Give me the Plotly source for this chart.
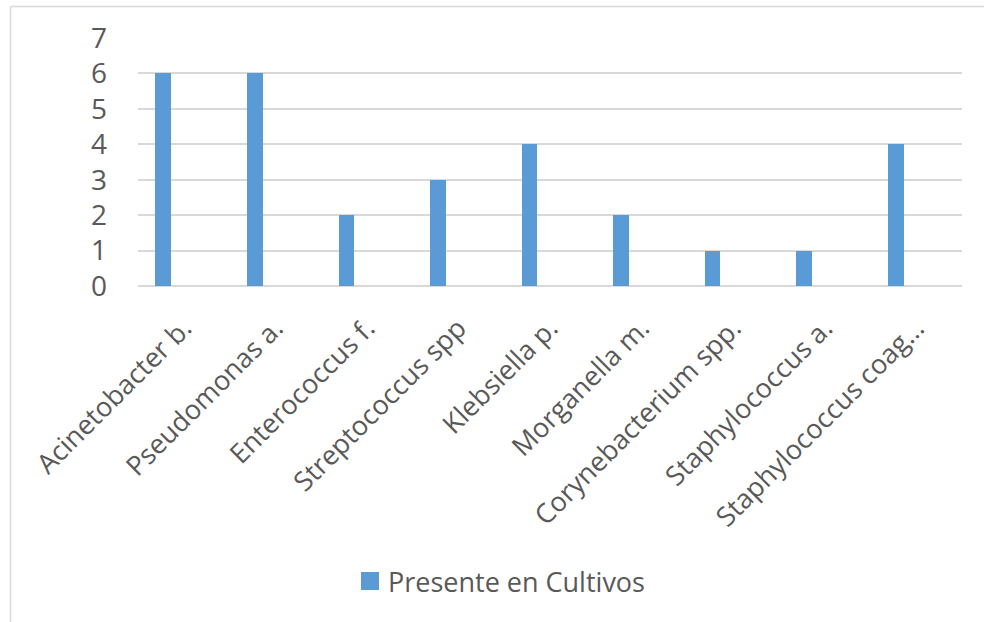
import plotly.graph_objects as go

categories = ["Acinetobacter b.", "Pseudomonas a.", "Enterococcus f.", "Streptococcus spp",
              "Klebsiella p.", "Morganella m.", "Corynebacterium spp.", "Staphylococcus a.",
              "Staphylococcus coag…"]
values = [6, 6, 2, 3, 4, 2, 1, 1, 4]
series_name = "Presente en Cultivos"
y_ticks = [0, 1, 2, 3, 4, 5, 6, 7]

W, H = 984, 622
L, R, T, B = 138, 962, 38, 286  # plot area in px

def px_x(x):
    return (x - L) / (R - L)

def px_y(y):
    return 1 - (y - T) / (B - T)

TEXT = "#595959"
GRID = "#D9D9D9"
BLUE = "#5B9BD5"
FONT = "Open Sans"

fig = go.Figure()
fig.add_trace(go.Bar(
    x=categories, y=values, name=series_name,
    marker=dict(color=BLUE, line=dict(width=0)),
    width=0.171, offset=-0.309,
    showlegend=False,
))

fig.update_layout(
    width=W, height=H,
    margin=dict(l=L, r=W - R, t=T, b=H - B, pad=0),
    paper_bgcolor="white", plot_bgcolor="white",
    font=dict(family=FONT, size=27, color=TEXT),
    xaxis=dict(type="category", range=[-0.5, 8.5], tickangle=-45,
               showgrid=False, showline=False, zeroline=False, ticks="",
               ticklabelstandoff=20,
               tickfont=dict(size=27, color=TEXT)),
    yaxis=dict(range=[0, 7], tickvals=y_ticks, showgrid=True, gridcolor=GRID, gridwidth=1.6,
               zeroline=True, zerolinecolor=GRID, zerolinewidth=1.6, showline=False, ticks="",
               ticklabelstandoff=30, tickfont=dict(size=28, color=TEXT)),
    bargap=0,
)

# chart border (top and left edges visible)
bx, by = px_x(10.5), px_y(6.5)
fig.add_shape(type="line", xref="paper", yref="paper", x0=bx, y0=by, x1=px_x(1000), y1=by,
              line=dict(color=GRID, width=1.5))
fig.add_shape(type="line", xref="paper", yref="paper", x0=bx, y0=by, x1=bx, y1=px_y(640),
              line=dict(color=GRID, width=1.5))

# legend
fig.add_shape(type="rect", xref="paper", yref="paper",
              x0=px_x(361), x1=px_x(379), y0=px_y(590), y1=px_y(572),
              fillcolor=BLUE, line=dict(width=0))
fig.add_annotation(xref="paper", yref="paper", x=px_x(386), y=px_y(581),
                   text=series_name, showarrow=False, xanchor="left", yanchor="middle",
                   font=dict(family=FONT, size=27, color=TEXT))

fig.write_html("out.html")
